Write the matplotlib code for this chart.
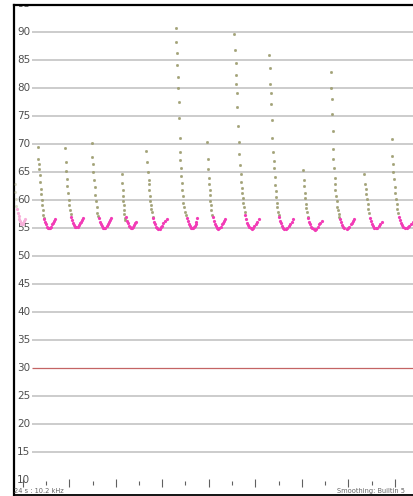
import matplotlib
matplotlib.use("Agg")
import matplotlib.pyplot as plt

# pitch track, time in frames from the left edge of the view
# descending sweep part of every call (olive dots)
sweep_t = [
    [1.0, 1.3, 1.7, 2.3],
    [23.7, 24.3, 25.0, 25.3, 26.0, 26.3, 26.7, 27.3, 27.7, 28.0, 28.7, 29.3, 30.0],
    [51.0, 51.7, 52.0, 52.7, 53.3, 54.0, 54.7, 55.3, 56.0, 56.7],
    [77.7, 78.3, 78.7, 79.3, 80.0, 80.7, 81.3, 82.0, 82.7, 83.3, 84.0],
    [107.7, 108.0, 108.7, 109.0, 109.3, 109.7, 110.0, 110.3, 110.7, 111.3],
    [132.0, 133.3, 134.0, 134.7, 135.0, 135.3, 136.0, 136.3, 136.7, 137.3, 138.0, 138.7],
    [161.7, 162.3, 163.0, 163.3, 163.7, 164.3, 164.7, 165.3, 165.7, 166.0, 166.3, 166.7,
     167.3, 167.7, 168.0, 168.7, 169.3, 170.0, 170.7, 171.7],
    [192.7, 193.7, 194.3, 194.7, 195.0, 195.7, 196.0, 196.3, 196.7, 197.3, 198.0],
    [220.3, 221.0, 221.7, 222.0, 222.3, 222.7, 223.3, 224.0, 224.7, 225.3, 226.0, 226.7,
     227.3, 227.7, 228.0, 228.7, 229.3, 230.0, 230.7],
    [255.3, 256.0, 256.3, 256.7, 257.3, 257.7, 258.3, 259.0, 259.7, 260.0, 260.7, 261.0,
     261.7, 262.3, 262.7, 263.3, 264.0, 264.7],
    [288.7, 289.7, 290.3, 290.7, 291.3, 291.7, 292.3, 293.0, 293.7],
    [316.7, 317.3, 317.7, 318.3, 319.0, 319.0, 319.3, 320.0, 320.7, 321.0, 321.3, 322.0,
     322.7, 323.3, 324.0, 324.7, 325.3],
    [350.3, 351.0, 351.7, 352.3, 353.0, 353.7, 354.3, 355.0],
    [377.7, 378.3, 379.0, 379.3, 380.0, 380.7, 381.3, 382.0, 382.7, 383.3, 384.0],
]
sweep_p = [
    [63.0, 61.5, 60.2, 59.0],
    [69.6, 67.4, 66.5, 65.6, 64.6, 63.3, 62.1, 61.2, 60.1, 59.2, 58.3, 57.4, 56.9],
    [69.4, 66.8, 65.3, 63.8, 62.6, 61.4, 60.1, 59.2, 58.3, 57.6],
    [70.3, 67.7, 66.5, 65.0, 63.6, 62.3, 61.0, 59.8, 58.8, 57.8, 57.2],
    [64.8, 63.1, 61.9, 60.8, 59.8, 59.1, 58.3, 57.6, 56.9, 56.5],
    [68.9, 66.9, 65.1, 63.7, 63.0, 61.8, 60.7, 59.8, 59.2, 58.5, 57.9, 57.1],
    [90.8, 88.3, 86.4, 84.2, 82.0, 80.0, 77.6, 74.7, 71.1, 68.7, 67.3, 65.7,
     64.3, 63.1, 61.9, 60.7, 59.6, 58.8, 58.0, 57.4],
    [70.5, 67.4, 65.6, 64.0, 62.9, 61.9, 60.9, 59.8, 59.1, 58.2, 57.4],
    [89.8, 86.8, 84.5, 82.4, 80.8, 79.2, 76.6, 73.3, 70.5, 68.3, 66.3, 64.8,
     63.2, 62.2, 61.3, 60.4, 59.6, 58.8, 57.9],
    [86.0, 83.7, 80.8, 79.1, 77.3, 74.4, 71.1, 68.7, 67.0, 65.7, 64.1, 62.8,
     61.6, 60.6, 59.6, 58.9, 58.0, 57.4],
    [65.4, 63.7, 62.5, 61.4, 60.4, 59.4, 58.6, 57.9, 57.1],
    [83.0, 80.1, 78.1, 75.5, 72.4, 69.2, 67.4, 65.7, 64.0, 62.9, 61.8, 60.7,
     59.8, 58.9, 58.2, 57.6, 57.0],
    [64.7, 62.9, 62.0, 61.1, 60.2, 59.3, 58.4, 57.7],
    [71.0, 68.0, 66.5, 65.0, 63.8, 62.4, 61.3, 60.2, 59.3, 58.5, 57.7],
]

# the dip at the end of every call (magenta)
dip_t = [
    [3.3, 4.0, 4.7, 5.3, 6.0, 6.7, 7.3, 8.0, 8.7, 9.3, 10.0, 11.0],
    [30.5, 31.3, 32.3, 33.3, 34.3, 35.3, 36.3, 37.3, 38.3, 39.3, 40.3, 41.3],
    [57.3, 58.3, 59.3, 60.3, 61.3, 62.5, 63.7, 64.7, 65.7, 66.7, 67.7, 68.7],
    [85.0, 86.0, 87.0, 88.0, 89.0, 90.3, 91.5, 92.7, 94.0, 95.0, 96.3, 97.5],
    [112.0, 113.0, 114.0, 115.0, 116.0, 117.0, 118.0, 119.0, 120.0, 121.0, 122.0],
    [139.3, 140.3, 141.3, 142.3, 143.3, 144.5, 145.7, 147.0, 148.3, 149.5, 151.0, 152.7],
    [172.7, 173.7, 174.7, 175.7, 176.7, 177.7, 178.7, 179.7, 180.7, 181.7, 182.3, 183.3],
    [198.7, 199.7, 200.7, 201.7, 202.7, 204.3, 205.5, 206.7, 208.0, 209.0, 210.0, 211.0],
    [231.3, 232.3, 233.3, 234.3, 235.3, 236.7, 238.0, 239.3, 240.5, 241.7, 243.0, 245.3],
    [265.3, 266.3, 267.3, 268.3, 269.3, 270.5, 272.0, 273.3, 274.7, 276.0, 277.7, 279.3],
    [294.0, 295.0, 296.0, 297.0, 298.5, 300.0, 301.0, 302.5, 304.0, 305.3, 306.5, 307.7],
    [326.0, 327.0, 328.0, 329.0, 330.5, 332.7, 334.0, 335.3, 336.7, 338.0, 339.0, 340.3],
    [356.0, 357.0, 358.0, 359.0, 360.5, 362.0, 363.5, 364.7, 366.0, 367.7],
    [385.0, 386.0, 387.0, 388.0, 389.5, 391.0, 392.7, 394.0, 395.5, 397.0, 399.0],
]
dip_p = [
    [58.4, 57.8, 57.2, 56.7, 56.3, 56.0, 55.8, 55.7, 55.8, 56.0, 56.3, 56.6],
    [56.7, 56.1, 55.7, 55.3, 55.1, 55.0, 55.0, 55.3, 55.7, 56.0, 56.4, 56.7],
    [57.1, 56.5, 56.0, 55.6, 55.3, 55.2, 55.3, 55.6, 55.9, 56.2, 56.5, 56.8],
    [56.8, 56.2, 55.7, 55.4, 55.1, 55.0, 55.1, 55.4, 55.8, 56.1, 56.5, 56.8],
    [57.0, 56.4, 55.9, 55.5, 55.2, 55.0, 55.1, 55.3, 55.6, 55.9, 56.2],
    [56.8, 56.2, 55.7, 55.3, 55.1, 54.9, 54.9, 55.2, 55.5, 55.9, 56.3, 56.6],
    [56.9, 56.3, 55.8, 55.4, 55.1, 55.0, 55.0, 55.2, 55.5, 55.8, 56.2, 56.8],
    [57.0, 56.3, 55.8, 55.4, 55.1, 54.9, 55.0, 55.3, 55.7, 56.0, 56.3, 56.6],
    [57.3, 56.6, 56.0, 55.6, 55.2, 55.0, 54.9, 55.1, 55.4, 55.8, 56.2, 56.7],
    [57.0, 56.4, 55.9, 55.4, 55.1, 54.9, 54.8, 55.0, 55.4, 55.8, 56.2, 56.6],
    [56.8, 56.2, 55.7, 55.3, 55.0, 54.8, 54.7, 54.9, 55.3, 55.7, 56.0, 56.3],
    [56.6, 56.1, 55.6, 55.3, 55.0, 54.8, 55.0, 55.3, 55.7, 56.0, 56.3, 56.6],
    [56.9, 56.3, 55.8, 55.4, 55.1, 55.0, 55.1, 55.4, 55.7, 56.1],
    [57.1, 56.5, 56.0, 55.6, 55.2, 55.0, 55.0, 55.2, 55.5, 55.8, 56.1],
]

y_labels = [95, 90, 85, 80, 75, 70, 65, 60, 55, 50, 45, 40, 35, 30, 25, 20, 15, 10]
grid_levels = [90, 85, 80, 75, 70, 65, 60, 55, 50, 45, 40, 35, 25, 20, 15]
ref_level = 30
time_ticks = [8.7, 31.7, 55.0, 78.7, 101.7, 125.0, 148.0, 171.0, 194.7, 218.0,
              241.0, 264.7, 288.0, 311.0, 334.0, 358.0, 381.0]
info_left = "24 s : 10.2 kHz"
info_right = "Smoothing: Builtin 5"

fig = plt.figure(figsize=(4.14, 4.96), dpi=100)
ax = fig.add_axes([14 / 414, 1 / 496, 400 / 414, 490 / 496])
ax.set_xlim(0, 400)
ax.set_ylim(7.37, 94.9)

# grid lines start right of the labels
ax.hlines(grid_levels, 18, 400, color="#c8c8c8", lw=1.3, zorder=1)
ax.hlines([ref_level], 18, 400, color="#c46464", lw=0.9, zorder=1)

for lab in y_labels:
    ax.text(3, lab, str(lab), fontsize=7.5, color="#505050", ha="left", va="center",
            clip_on=True, zorder=2)

# calls
for i, (t, p) in enumerate(zip(sweep_t, sweep_p)):
    a = 0.35 if i == 0 else 1.0
    ax.plot(t, p, ls="none", marker="o", ms=1.7, mfc="#a3a374", mec="#8f8f60",
            mew=0.3, alpha=a, zorder=3)
for i, (t, p) in enumerate(zip(dip_t, dip_p)):
    c = "#f7b0da" if i == 0 else "#f23cb6"
    ax.plot(t, p, ls="none", marker="o", ms=2.3, mfc=c, mec=c, mew=0, zorder=4)

# time ticks, alternating long/short
for k, tx in enumerate(time_ticks):
    if k % 2 == 0:
        ax.vlines(tx, 8.75, 10.3, color="#606060", lw=0.8, zorder=2)
    else:
        ax.vlines(tx, 9.1, 9.9, color="#606060", lw=0.8, zorder=2)

ax.text(0.5, 8.15, info_left, fontsize=4.8, color="#666666", ha="left", va="center")
ax.text(391, 8.15, info_right, fontsize=4.8, color="#666666", ha="right", va="center")

ax.set_xticks([])
ax.set_yticks([])
ax.spines["right"].set_visible(False)
ax.spines["left"].set_linewidth(1.6)
ax.spines["top"].set_linewidth(1.6)
ax.spines["bottom"].set_linewidth(1.3)
for s in ["left", "top", "bottom"]:
    ax.spines[s].set_color("black")

fig.savefig("out.png", dpi=100)
